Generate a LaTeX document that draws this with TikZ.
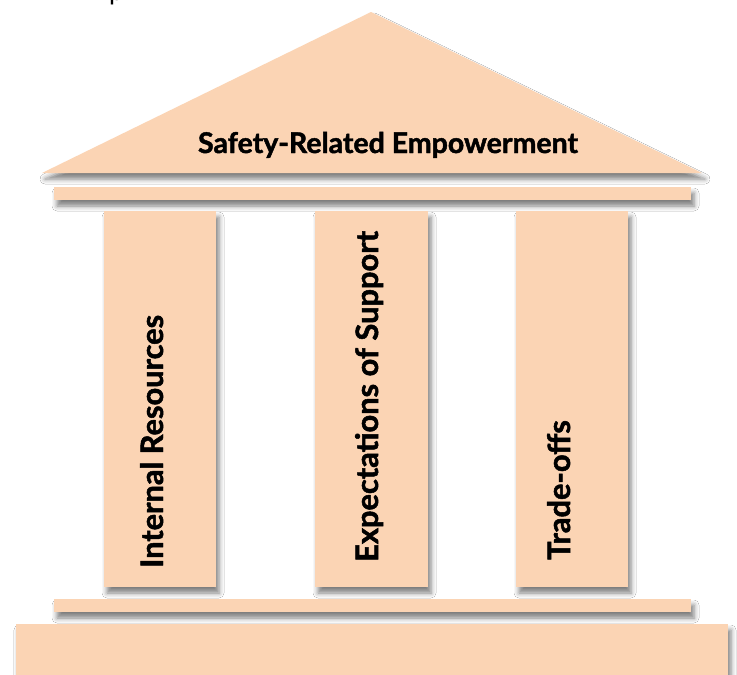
\documentclass[tikz,border=0pt]{standalone}
\usepackage{fontspec}
\setmainfont[BoldFeatures={FakeBold=1.6}]{Lato}
\usetikzlibrary{shadows.blur}
\definecolor{peach}{HTML}{FBD4B4}
\tikzset{
  part/.style={fill=peach, draw=none, inner sep=0pt, outer sep=0pt,
    blur shadow={shadow xshift=3pt, shadow yshift=-6pt,
      shadow blur radius=5pt, shadow opacity=50}},
  slab/.style={part, anchor=north west, minimum height=13pt},
  pillar/.style={part, anchor=north west, minimum height=376pt},
  captext/.style={font=\fontsize{28.5}{32}\selectfont\bfseries, inner sep=0pt, text=black},
  upright/.style={captext, font=\fontsize{30.8}{36}\selectfont\bfseries, rotate=90, anchor=base west}
}
\begin{document}
\begin{tikzpicture}[x=1pt,y=-1pt]
  \useasboundingbox (0,0) rectangle (737,675);
  \fill[white] (0,0) rectangle (737,675);

  % clipped descender of a line of text above the frame
  \node[font=\fontsize{26}{30}\selectfont, inner sep=0pt, anchor=base west] (topline) at (109,0.3) {p};

  % roof
  \path[part] (42,173) coordinate (roofL) -- (371,12) coordinate (apex) -- (702,173) coordinate (roofR) -- cycle;
  \node[captext, anchor=base] (roofText) at (388,153) {Safety-Related Empowerment};

  % upper beam
  \node[slab, minimum width=637pt] (beam) at (54,187) {};

  % columns
  \node[pillar, minimum width=112pt] (col1) at (104,211) {};
  \node[pillar, minimum width=113pt] (col2) at (315,211) {};
  \node[pillar, minimum width=112pt] (col3) at (516,211) {};

  \node[upright] (t1) at (163,568) {Internal Resources};
  \node[upright] (t2) at (378,562) {Expectations of Support};
  \node[upright] (t3) at (570,560) {Trade-offs};

  % lower beam and base
  \node[slab, minimum width=637pt] (plinth) at (54,599) {};
  \node[part, anchor=north west, minimum width=712pt, minimum height=70pt] (base) at (16,624) {};
\end{tikzpicture}
\end{document}
